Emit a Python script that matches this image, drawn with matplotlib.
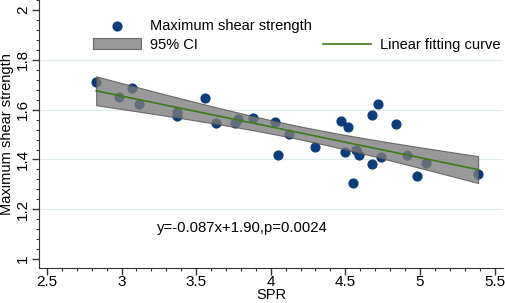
import numpy as np
import matplotlib.pyplot as plt
from matplotlib.ticker import MultipleLocator

plt.rcParams['font.family'] = ['Liberation Sans', 'DejaVu Sans']

# SPR vs maximum shear strength
spr = [2.83, 2.98, 3.07, 3.12, 3.37, 3.37, 3.56, 3.63, 3.76, 3.78,
       3.88, 4.03, 4.05, 4.12, 4.30, 4.47, 4.50, 4.52, 4.57, 4.55,
       4.59, 4.68, 4.72, 4.68, 4.74, 4.84, 4.91, 4.98, 5.04, 5.39]
strength = [1.711, 1.651, 1.687, 1.622, 1.590, 1.574, 1.647, 1.546, 1.546, 1.562,
            1.566, 1.550, 1.420, 1.502, 1.450, 1.554, 1.430, 1.530, 1.438, 1.305,
            1.420, 1.578, 1.622, 1.380, 1.410, 1.542, 1.420, 1.333, 1.386, 1.341]
equation = 'y=-0.087x+1.90,p=0.0024'

x = np.array(spr)
y = np.array(strength)

# linear fit with 95% confidence band of the mean
slope, intercept = np.polyfit(x, y, 1)
n = len(x)
resid = y - (slope * x + intercept)
s = np.sqrt(np.sum(resid ** 2) / (n - 2))
xs = np.linspace(x.min(), x.max(), 100)
ys = slope * xs + intercept
se = s * np.sqrt(1 / n + (xs - x.mean()) ** 2 / np.sum((x - x.mean()) ** 2))
t = 2.048
lo, hi = ys - t * se, ys + t * se

fig = plt.figure(figsize=(5.05, 3.03), dpi=100)
ax = fig.add_axes([0.077, 0.115, 0.92, 0.885])

for gy in [1.2, 1.4, 1.6, 1.8]:
    ax.axhline(gy, color='#dcebee', lw=0.8, zorder=0)

pts = ax.scatter(x, y, s=40, color='#0d3c78', zorder=2)
band = ax.fill_between(xs, lo, hi, facecolor='#7d7d7d', edgecolor='#505050', lw=0.8,
                       alpha=0.78, zorder=3)
fit, = ax.plot(xs, ys, color='#3f7a1c', lw=1.2, zorder=4)

ax.text(3.24, 1.125, equation, fontsize=10.7, va='center', ha='left')

ax.set_xlim(2.446, 5.56)
ax.set_ylim(0.964, 2.04)
ax.xaxis.set_minor_locator(MultipleLocator(0.1))
ax.yaxis.set_minor_locator(MultipleLocator(0.04))
ax.set_xticks([2.5, 3, 3.5, 4, 4.5, 5, 5.5])
ax.set_xticklabels(['2.5', '3', '3.5', '4', '4.5', '5', '5.5'])
ax.set_yticks([1, 1.2, 1.4, 1.6, 1.8, 2])
ax.set_yticklabels(['1', '1.2', '1.4', '1.6', '1.8', '2'], rotation=90, va='center')
ax.tick_params(axis='both', which='major', length=5, width=1, labelsize=11,
               color='#333333', pad=1.5)
ax.tick_params(axis='x', which='major', pad=0)
ax.tick_params(axis='both', which='minor', length=2.5, width=0.8, color='#333333')
ax.spines['top'].set_visible(False)
ax.spines['right'].set_visible(False)
ax.spines['left'].set_color('#333333')
ax.spines['bottom'].set_color('#333333')
ax.set_xlabel('SPR', fontsize=10.5, labelpad=-1)
ax.set_ylabel('Maximum shear strength', fontsize=10.5, labelpad=1)

leg1 = ax.legend([pts, band], ['Maximum shear strength', '95% CI'],
                 loc='upper left', bbox_to_anchor=(0.104, 0.95), frameon=False,
                 fontsize=10.5, handlelength=3.3, borderaxespad=0, labelspacing=0.3,
                 handletextpad=0.6)
ax.add_artist(leg1)
ax.legend([fit], ['Linear fitting curve'], loc='upper left',
          bbox_to_anchor=(0.599, 0.879), frameon=False, fontsize=10.5,
          handlelength=3.3, borderaxespad=0, handletextpad=0.6)

fig.savefig('out.png', dpi=100)
